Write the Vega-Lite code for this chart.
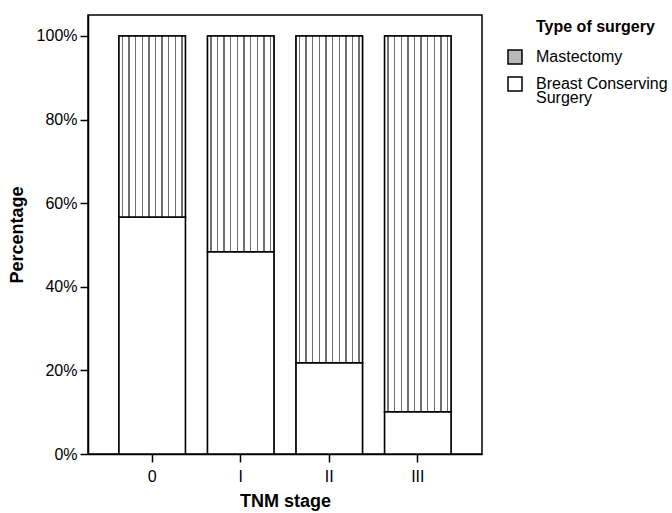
{
  "$schema": "https://vega.github.io/schema/vega-lite/v6.json",
  "width": 394,
  "height": 439,
  "autosize": {"type": "none"},
  "padding": {"left": 88, "top": 15, "right": 190, "bottom": 59},
  "background": "white",
  "config": {
    "font": "Liberation Sans",
    "view": {"stroke": "black", "strokeWidth": 1.5}
  },
  "data": {
    "values": [
      {"stage": "0", "type": "Breast Conserving Surgery", "pct": 56.7},
      {"stage": "0", "type": "Mastectomy", "pct": 43.3},
      {"stage": "I", "type": "Breast Conserving Surgery", "pct": 48.4},
      {"stage": "I", "type": "Mastectomy", "pct": 51.6},
      {"stage": "II", "type": "Breast Conserving Surgery", "pct": 21.8},
      {"stage": "II", "type": "Mastectomy", "pct": 78.2},
      {"stage": "III", "type": "Breast Conserving Surgery", "pct": 10.1},
      {"stage": "III", "type": "Mastectomy", "pct": 89.9}
    ]
  },
  "encoding": {
    "x": {
      "field": "stage",
      "type": "nominal",
      "sort": ["0", "I", "II", "III"],
      "scale": {"paddingInner": 0.25, "paddingOuter": 0.35},
      "axis": {
        "title": "TNM stage",
        "titleFontSize": 18,
        "titleFontWeight": "bold",
        "titleColor": "black",
        "titlePadding": 8,
        "labelAngle": 0,
        "labelFontSize": 16,
        "labelColor": "black",
        "labelPadding": 6,
        "tickSize": 8,
        "tickWidth": 1.5,
        "tickColor": "black",
        "domainColor": "black",
        "domainWidth": 1.5
      }
    },
    "y": {
      "field": "pct",
      "type": "quantitative",
      "stack": "zero",
      "scale": {"domain": [0, 105], "nice": false},
      "axis": {
        "title": "Percentage",
        "titleFontSize": 18,
        "titleFontWeight": "bold",
        "titleColor": "black",
        "titlePadding": 10,
        "values": [0, 20, 40, 60, 80, 100],
        "labelExpr": "datum.value + '%'",
        "labelFontSize": 16,
        "labelColor": "black",
        "labelPadding": 3,
        "tickSize": 8,
        "tickWidth": 1.5,
        "tickColor": "black",
        "domainColor": "black",
        "domainWidth": 1.5,
        "grid": false
      }
    },
    "order": {"field": "type", "sort": "ascending"}
  },
  "layer": [
    {
      "mark": {"type": "bar", "stroke": "black", "strokeWidth": 1.5},
      "encoding": {
        "fill": {
          "field": "type",
          "type": "nominal",
          "scale": {
            "domain": ["Mastectomy", "Breast Conserving Surgery"],
            "range": ["#b8b8b8", "white"]
          },
          "legend": {
            "orient": "none",
            "legendX": 419,
            "legendY": 4,
            "padding": 0,
            "title": "Type of surgery",
            "titleFontSize": 16,
            "titleFontWeight": "bold",
            "titleColor": "black",
            "titlePadding": 14,
            "labelFontSize": 16,
            "labelColor": "black",
            "labelLimit": 300,
            "labelOffset": 13,
            "labelExpr": "datum.label == 'Breast Conserving Surgery' ? ['Breast Conserving', 'Surgery'] : datum.label",
            "symbolType": "square",
            "symbolSize": 196,
            "symbolStrokeColor": "black",
            "symbolStrokeWidth": 1.5,
            "rowPadding": 7,
            "encode": {
              "title": {"update": {"dx": {"value": 29}}},
              "labels": {"update": {"lineHeight": {"value": 14}}},
              "symbols": {"update": {
                "stroke": {"value": "black"},
                "strokeWidth": {"value": 1.5}
              }}
            }
          }
        }
      }
    },
    {
      "mark": {"type": "bar", "stroke": "black", "strokeWidth": 1.5},
      "encoding": {
        "fill": {
          "condition": {
            "test": "datum.type === 'Mastectomy'",
            "value": {
              "gradient": "linear",
              "x1": 0, "y1": 0, "x2": 1, "y2": 0,
              "stops": [
                {"offset": 0, "color": "white"},
                {"offset": 0.04, "color": "white"}, {"offset": 0.04, "color": "#707070"}, {"offset": 0.06, "color": "#707070"}, {"offset": 0.06, "color": "white"},
                {"offset": 0.14, "color": "white"}, {"offset": 0.14, "color": "#707070"}, {"offset": 0.16, "color": "#707070"}, {"offset": 0.16, "color": "white"},
                {"offset": 0.24, "color": "white"}, {"offset": 0.24, "color": "#707070"}, {"offset": 0.26, "color": "#707070"}, {"offset": 0.26, "color": "white"},
                {"offset": 0.34, "color": "white"}, {"offset": 0.34, "color": "#707070"}, {"offset": 0.36, "color": "#707070"}, {"offset": 0.36, "color": "white"},
                {"offset": 0.44, "color": "white"}, {"offset": 0.44, "color": "#707070"}, {"offset": 0.46, "color": "#707070"}, {"offset": 0.46, "color": "white"},
                {"offset": 0.54, "color": "white"}, {"offset": 0.54, "color": "#707070"}, {"offset": 0.56, "color": "#707070"}, {"offset": 0.56, "color": "white"},
                {"offset": 0.64, "color": "white"}, {"offset": 0.64, "color": "#707070"}, {"offset": 0.66, "color": "#707070"}, {"offset": 0.66, "color": "white"},
                {"offset": 0.74, "color": "white"}, {"offset": 0.74, "color": "#707070"}, {"offset": 0.76, "color": "#707070"}, {"offset": 0.76, "color": "white"},
                {"offset": 0.84, "color": "white"}, {"offset": 0.84, "color": "#707070"}, {"offset": 0.86, "color": "#707070"}, {"offset": 0.86, "color": "white"},
                {"offset": 0.94, "color": "white"}, {"offset": 0.94, "color": "#707070"}, {"offset": 0.96, "color": "#707070"}, {"offset": 0.96, "color": "white"},
                {"offset": 1, "color": "white"}
              ]
            }
          },
          "value": "white"
        }
      }
    }
  ]
}
